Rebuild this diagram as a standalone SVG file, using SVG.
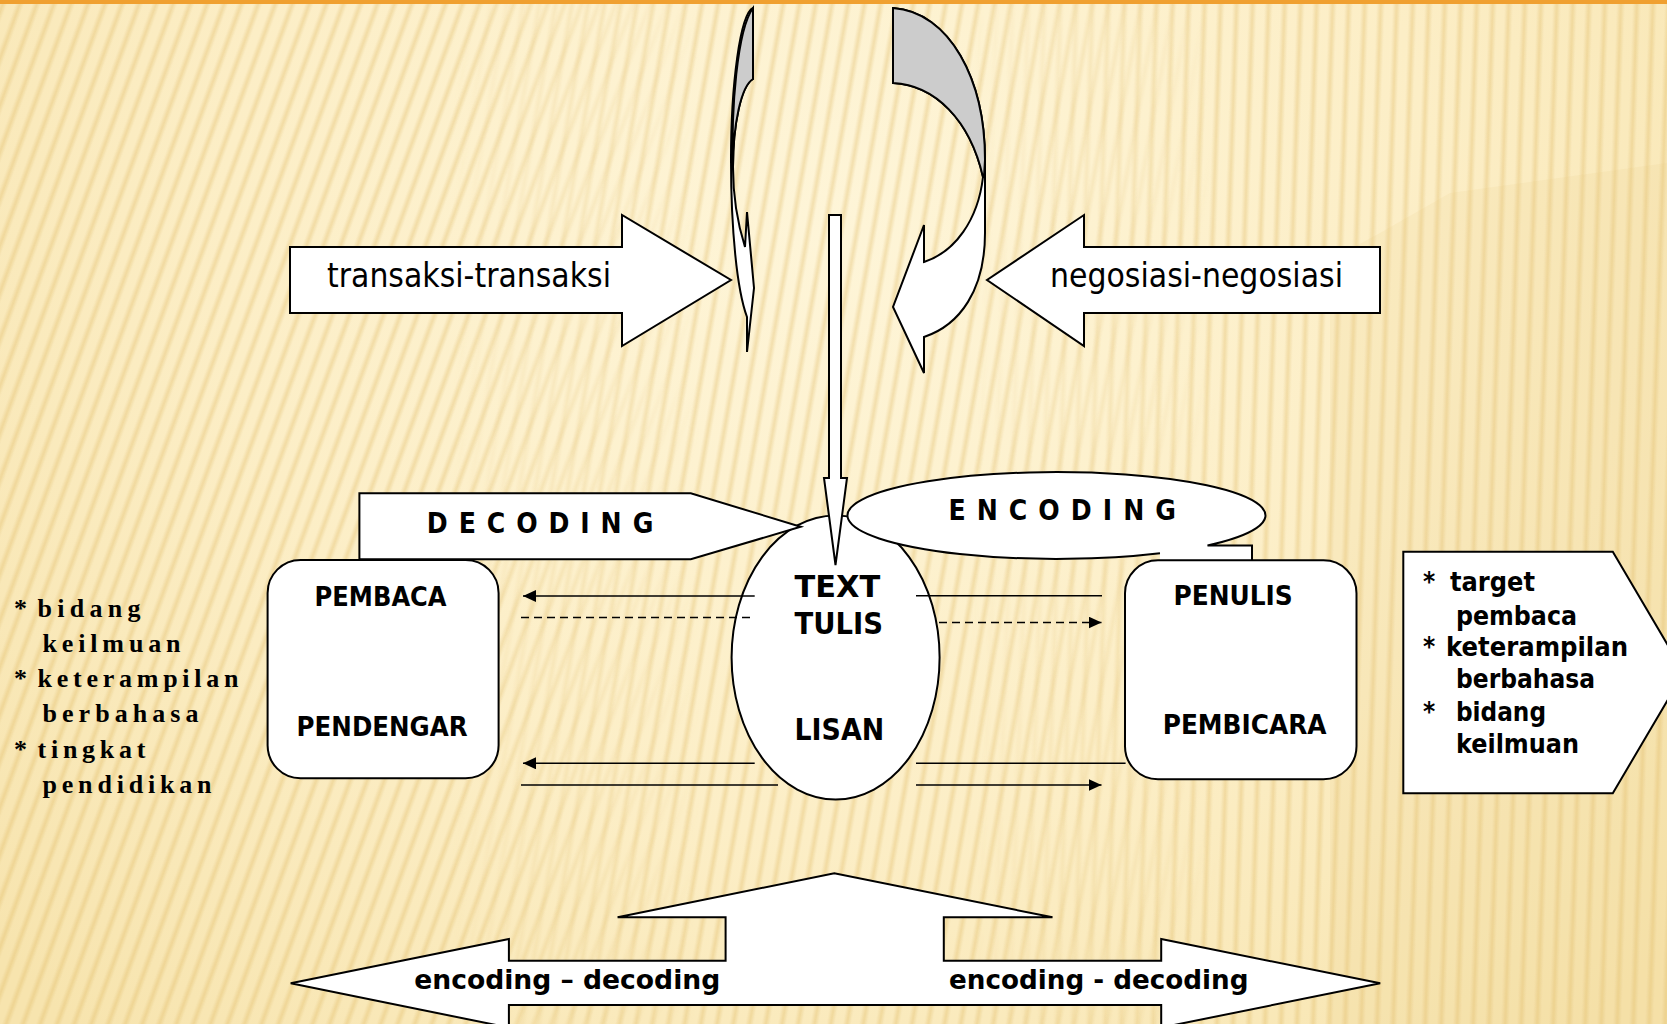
<svg xmlns="http://www.w3.org/2000/svg" width="1667" height="1024" viewBox="0 0 1667 1024">
  <defs>
    <radialGradient id="bgGrad" cx="830" cy="230" r="1100" gradientUnits="userSpaceOnUse">
      <stop offset="0" stop-color="#FEF5D8"/>
      <stop offset="0.55" stop-color="#FCEEC6"/>
      <stop offset="1" stop-color="#F7E4AE"/>
    </radialGradient>
    <linearGradient id="stripeGrad" x1="0" y1="0" x2="1" y2="0">
      <stop offset="0" stop-color="#DDB45A" stop-opacity="0"/>
      <stop offset="0.5" stop-color="#DDB45A" stop-opacity="0.34"/>
      <stop offset="1" stop-color="#DDB45A" stop-opacity="0"/>
    </linearGradient>
    <pattern id="stripesA" patternUnits="userSpaceOnUse" width="16" height="2400" patternTransform="rotate(20)">
      <rect x="0" y="-200" width="8" height="2800" fill="url(#stripeGrad)"/>
    </pattern>
    <pattern id="stripesB" patternUnits="userSpaceOnUse" width="16" height="2400" patternTransform="rotate(10)">
      <rect x="0" y="-200" width="8" height="2800" fill="url(#stripeGrad)"/>
    </pattern>
    <pattern id="stripesC" patternUnits="userSpaceOnUse" width="16" height="2400" patternTransform="rotate(2)">
      <rect x="0" y="-200" width="8" height="2800" fill="url(#stripeGrad)"/>
    </pattern>
    <linearGradient id="mA" x1="0" y1="0" x2="1667" y2="0" gradientUnits="userSpaceOnUse">
      <stop offset="0" stop-color="#fff"/>
      <stop offset="0.27" stop-color="#fff"/>
      <stop offset="0.42" stop-color="#000"/>
      <stop offset="1" stop-color="#000"/>
    </linearGradient>
    <linearGradient id="mB" x1="0" y1="0" x2="1667" y2="0" gradientUnits="userSpaceOnUse">
      <stop offset="0.27" stop-color="#000"/>
      <stop offset="0.42" stop-color="#fff"/>
      <stop offset="0.58" stop-color="#fff"/>
      <stop offset="0.73" stop-color="#000"/>
    </linearGradient>
    <linearGradient id="mC" x1="0" y1="0" x2="1667" y2="0" gradientUnits="userSpaceOnUse">
      <stop offset="0" stop-color="#000"/>
      <stop offset="0.58" stop-color="#000"/>
      <stop offset="0.73" stop-color="#fff"/>
      <stop offset="1" stop-color="#fff"/>
    </linearGradient>
    <mask id="maskA" maskUnits="userSpaceOnUse" x="0" y="0" width="1667" height="1024"><rect width="1667" height="1024" fill="url(#mA)"/></mask>
    <mask id="maskB" maskUnits="userSpaceOnUse" x="0" y="0" width="1667" height="1024"><rect width="1667" height="1024" fill="url(#mB)"/></mask>
    <mask id="maskC" maskUnits="userSpaceOnUse" x="0" y="0" width="1667" height="1024"><rect width="1667" height="1024" fill="url(#mC)"/></mask>
    <marker id="ah" markerUnits="userSpaceOnUse" markerWidth="14" markerHeight="12" refX="13" refY="6" orient="auto">
      <path d="M0,0 L13,6 L0,12 Z" fill="#000"/>
    </marker>
    <style>
      .shape { fill: #FFFFFF; stroke: #000000; stroke-width: 2; stroke-linejoin: miter; }
      .gray { fill: #CCCCCC; stroke: #000000; stroke-width: 2; }
      .conn { stroke: #000000; stroke-width: 1.6; fill: none; }
      .dash { stroke-dasharray: 8 5; }
      .sans { font-family: "DejaVu Sans Condensed", "DejaVu Sans", sans-serif; fill: #000; }
      .bold { font-weight: bold; }
      .serif { font-family: "Liberation Serif", "Times New Roman", serif; font-weight: bold; fill: #000; font-size: 26px; }
    </style>
  </defs>

  <!-- background -->
  <g id="background">
    <rect x="0" y="0" width="1667" height="1024" fill="url(#bgGrad)"/>
    <rect x="0" y="0" width="1667" height="1024" fill="url(#stripesA)" mask="url(#maskA)"/>
    <rect x="0" y="0" width="1667" height="1024" fill="url(#stripesB)" mask="url(#maskB)"/>
    <rect x="0" y="0" width="1667" height="1024" fill="url(#stripesC)" mask="url(#maskC)"/>
    <polygon points="1380,233 1450,193 1667,163 1667,1024 1330,1024 1330,260" fill="#E8C878" opacity="0.12"/>
    <rect x="0" y="0" width="1667" height="4" fill="#F0A030"/>
  </g>

  <g id="node-transaksi">
    <polygon class="shape" points="290,247 622,247 622,215 731,280 622,346 622,313 290,313"/>
    <text class="sans" x="469" y="287" font-size="34" text-anchor="middle" textLength="284" lengthAdjust="spacingAndGlyphs">transaksi-transaksi</text>
  </g>

  <g id="node-negosiasi">
    <polygon class="shape" points="1380,247 1084,247 1084,215 987,280 1084,346 1084,313 1380,313"/>
    <text class="sans" x="1196.5" y="287" font-size="34" text-anchor="middle" textLength="293" lengthAdjust="spacingAndGlyphs">negosiasi-negosiasi</text>
  </g>

  <g id="node-curve-left">
    <path class="shape" d="M753,8 L753,79 C741,86 733,125 733,167 C733,200 739,228 745,247 L747,212 L754,288 L747,352 L747,317 C737,290 731,230 731,160 C731,85 740,14 753,8 Z"/>
    <path class="gray" d="M753,8 L753,79 C741,86 733,125 733,167 C731,110 737,30 753,8 Z"/>
  </g>

  <g id="node-curve-right">
    <path class="shape" d="M893,8 C950,12 985,80 985,160 L985,233 C985,290 960,325 924,337 L924,373 L893,307 L924,225 L924,262 C955,252 978,220 983,177 C970,120 935,85 893,83 Z"/>
    <path class="gray" d="M893,8 C950,12 985,80 985,160 L984,177 L983,177 C970,120 935,85 893,83 Z"/>
  </g>

  <g id="node-text">
    <ellipse class="shape" cx="835.6" cy="657.5" rx="104" ry="142"/>
  </g>

  <g id="node-decoding">
    <polygon class="shape" points="359.4,493.3 690.8,493.3 800.7,526.7 690.8,559.3 359.4,559.3"/>
    <text class="sans bold" x="426.8" y="532.7" font-size="28" textLength="226.5" lengthAdjust="spacing">D E C O D I N G</text>
  </g>

  <g id="node-encoding">
    <path d="M1160,553.2 A209,43.4 0 1 1 1207.5,545.5 L1252,545.5 L1252,600 L1160,600 Z" fill="#FFFFFF" stroke="none"/>
    <path d="M1160,553.2 A209,43.4 0 1 1 1207.5,545.5 L1252,545.5 L1252,575" fill="none" stroke="#000" stroke-width="2"/>
    <text class="sans bold" x="948.4" y="520" font-size="28" textLength="227.6" lengthAdjust="spacing">E N C O D I N G</text>
  </g>

  <g id="node-down-arrow">
    <polygon class="shape" points="829,215 841,215 841,478 847,478 835.5,565 824,478 829,478"/>
  </g>

  <g id="node-text-labels">
    <text class="sans bold" x="794.5" y="597" font-size="31" textLength="85.8" lengthAdjust="spacingAndGlyphs">TEXT</text>
    <text class="sans bold" x="794.5" y="634" font-size="31" textLength="88.5" lengthAdjust="spacingAndGlyphs">TULIS</text>
    <text class="sans bold" x="794.5" y="740" font-size="31" textLength="89.6" lengthAdjust="spacingAndGlyphs">LISAN</text>
  </g>

  <g id="node-pembaca">
    <rect class="shape" x="267.6" y="560" width="231" height="218.3" rx="33" ry="33"/>
    <text class="sans bold" x="314.6" y="605.7" font-size="26" textLength="132" lengthAdjust="spacingAndGlyphs">PEMBACA</text>
    <text class="sans bold" x="296.6" y="736" font-size="26" textLength="171" lengthAdjust="spacingAndGlyphs">PENDENGAR</text>
  </g>

  <g id="node-penulis">
    <rect class="shape" x="1125" y="560.3" width="231.5" height="219" rx="33" ry="33"/>
    <text class="sans bold" x="1173.4" y="605" font-size="26" textLength="119.4" lengthAdjust="spacingAndGlyphs">PENULIS</text>
    <text class="sans bold" x="1162.7" y="734" font-size="26" textLength="163.8" lengthAdjust="spacingAndGlyphs">PEMBICARA</text>
  </g>

  <g id="connectors">
    <line class="conn" x1="754.7" y1="596" x2="523" y2="596" marker-end="url(#ah)"/>
    <line class="conn dash" x1="521" y1="617.5" x2="751" y2="617.5"/>
    <line class="conn" x1="754.7" y1="763.3" x2="523" y2="763.3" marker-end="url(#ah)"/>
    <line class="conn" x1="521" y1="785" x2="778" y2="785"/>
    <line class="conn" x1="916" y1="595.7" x2="1102" y2="595.7"/>
    <line class="conn dash" x1="939" y1="622.5" x2="1101.5" y2="622.5" marker-end="url(#ah)"/>
    <line class="conn" x1="916" y1="763.3" x2="1125.6" y2="763.3"/>
    <line class="conn" x1="916" y1="785" x2="1101.5" y2="785" marker-end="url(#ah)"/>
  </g>

  <g id="node-bottom-arrow">
    <polygon class="shape" points="290.7,983.3 508.9,939 508.9,960.7 725.6,960.7 725.6,917.3 617.6,917.3 834.3,873.3 1052.5,917.3 943.8,917.3 943.8,960.7 1161.2,960.7 1161.2,939 1380.2,983.3 1161.2,1027.6 1161.2,1005 508.9,1005 508.9,1027.6"/>
    <text class="sans bold" x="414.2" y="988.5" font-size="26" textLength="306" lengthAdjust="spacingAndGlyphs">encoding – decoding</text>
    <text class="sans bold" x="949" y="988.5" font-size="26" textLength="299.5" lengthAdjust="spacingAndGlyphs">encoding - decoding</text>
  </g>

  <g id="node-target">
    <polygon class="shape" points="1403.3,551.8 1612.8,551.8 1684,672.5 1612.8,793.2 1403.3,793.2"/>
    <text class="sans bold" font-size="26"><tspan x="1423" y="591">*</tspan><tspan x="1450" y="591" textLength="85" lengthAdjust="spacingAndGlyphs">target</tspan></text>
    <text class="sans bold" font-size="26" x="1456" y="625" textLength="121" lengthAdjust="spacingAndGlyphs">pembaca</text>
    <text class="sans bold" font-size="26"><tspan x="1423" y="656">*</tspan><tspan x="1446" y="656" textLength="182" lengthAdjust="spacingAndGlyphs">keterampilan</tspan></text>
    <text class="sans bold" font-size="26" x="1456" y="688" textLength="139" lengthAdjust="spacingAndGlyphs">berbahasa</text>
    <text class="sans bold" font-size="26"><tspan x="1423" y="721">*</tspan><tspan x="1456" y="721" textLength="90" lengthAdjust="spacingAndGlyphs">bidang</tspan></text>
    <text class="sans bold" font-size="26" x="1456" y="753" textLength="123" lengthAdjust="spacingAndGlyphs">keilmuan</text>
  </g>

  <g id="node-left-list">
    <text class="serif"><tspan x="14" y="616.7">*</tspan><tspan x="37.5" y="616.7" textLength="103" lengthAdjust="spacing">bidang</tspan></text>
    <text class="serif" x="42.5" y="651.5" textLength="138" lengthAdjust="spacing">keilmuan</text>
    <text class="serif"><tspan x="14" y="686.5">*</tspan><tspan x="37.5" y="686.5" textLength="201" lengthAdjust="spacing">keterampilan</tspan></text>
    <text class="serif" x="42.5" y="722" textLength="156" lengthAdjust="spacing">berbahasa</text>
    <text class="serif"><tspan x="14" y="758">*</tspan><tspan x="37.5" y="758" textLength="108" lengthAdjust="spacing">tingkat</tspan></text>
    <text class="serif" x="42.5" y="793" textLength="169" lengthAdjust="spacing">pendidikan</text>
  </g>
</svg>
